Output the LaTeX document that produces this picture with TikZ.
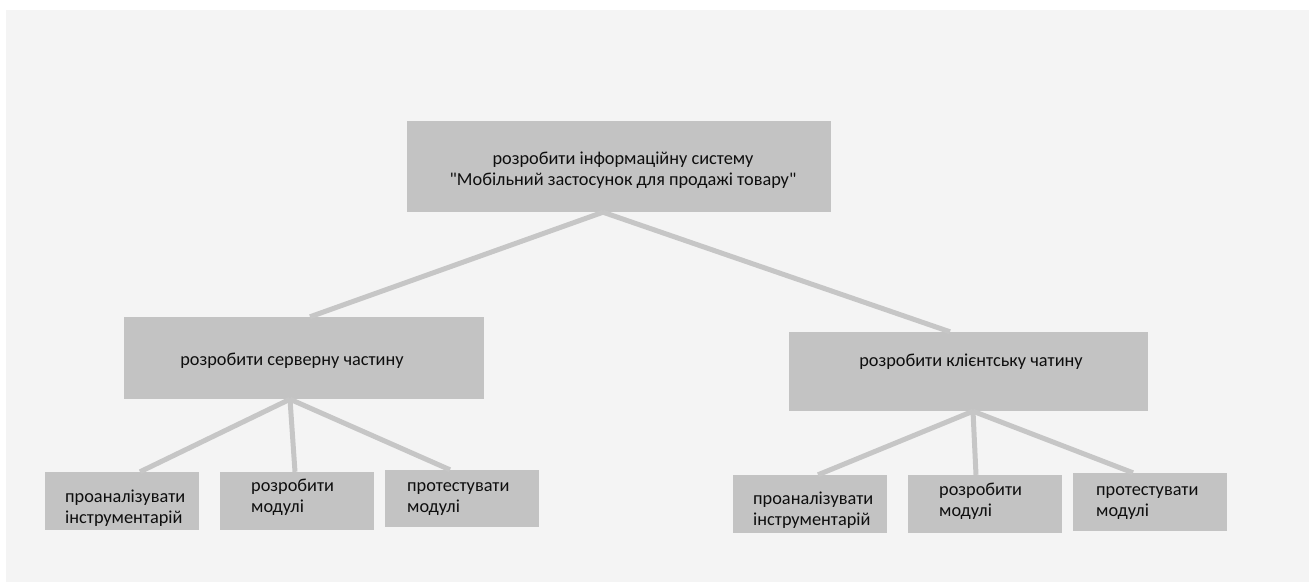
\documentclass[tikz,border=0pt]{standalone}
\usepackage{fontspec}
\setmainfont{Carlito}[Ligatures=TeXOff]
\definecolor{bgc}{HTML}{F4F4F4}
\definecolor{boxc}{HTML}{C3C3C3}
\definecolor{linec}{HTML}{C6C6C6}
\definecolor{txtc}{HTML}{0E0E0E}
\begin{document}
\begin{tikzpicture}[x=1pt,y=-1pt,
  box/.style={draw=none,fill=boxc,rectangle,inner sep=0pt},
  lbl/.style={inner sep=0pt,text=txtc,font=\fontsize{18.3}{20.5}\selectfont},
  conn/.style={draw=linec,line width=5pt}]
\useasboundingbox (0,0) rectangle (1309,582);
\fill[white] (0,0) rectangle (1309,582);
\fill[bgc] (6,10) rectangle (1309,582);
% boxes
\node[box,minimum width=424pt,minimum height=91pt] (top) at (619,166.5) {};
\node[box,minimum width=360pt,minimum height=82pt] (srv) at (304,358) {};
\node[box,minimum width=359pt,minimum height=79pt] (cli) at (968.5,371.5) {};
\node[box,minimum width=154pt,minimum height=58pt] (la) at (122,501) {};
\node[box,minimum width=154pt,minimum height=58pt] (lb) at (297,501) {};
\node[box,minimum width=154pt,minimum height=57pt] (lc) at (462,498.5) {};
\node[box,minimum width=154pt,minimum height=58pt] (ra) at (810,504) {};
\node[box,minimum width=154pt,minimum height=58pt] (rb) at (985,504) {};
\node[box,minimum width=154pt,minimum height=58pt] (rc) at (1150,502) {};
% connectors
\draw[conn] ([xshift=-16pt]top.south) -- ([xshift=6pt]srv.north);
\draw[conn] ([xshift=-16pt]top.south) -- ([xshift=-18.5pt]cli.north);
\draw[conn] ([xshift=-14pt]srv.south) -- ([xshift=18pt]la.north);
\draw[conn] ([xshift=-14pt]srv.south) -- ([xshift=-2pt]lb.north);
\draw[conn] ([xshift=-14pt]srv.south) -- ([xshift=-12pt]lc.north);
\draw[conn] ([xshift=4.5pt]cli.south) -- ([xshift=8pt]ra.north);
\draw[conn] ([xshift=4.5pt]cli.south) -- ([xshift=-9pt]rb.north);
\draw[conn] ([xshift=4.5pt]cli.south) -- ([xshift=-17pt]rc.north);
% texts (base = baseline of the last line)
\node[lbl,align=center,anchor=base] (topt) at (623,185) {розробити інформаційну систему\\"Мобільний застосунок для продажі товару"};
\node[lbl,anchor=base] (srvt) at (292,365) {розробити серверну частину};
\node[lbl,anchor=base] (clit) at (971,366) {розробити клієнтську чатину};
\node[lbl,align=left,anchor=base west] (lat) at (65,523) {проаналізувати\\інструментарій};
\node[lbl,align=left,anchor=base west] (lbt) at (251,512) {розробити\\модулі};
\node[lbl,align=left,anchor=base west] (lct) at (407,512) {протестувати\\модулі};
\node[lbl,align=left,anchor=base west] (rat) at (753,525) {проаналізувати\\інструментарій};
\node[lbl,align=left,anchor=base west] (rbt) at (939,516) {розробити\\модулі};
\node[lbl,align=left,anchor=base west] (rct) at (1096,516) {протестувати\\модулі};
\end{tikzpicture}
\end{document}
